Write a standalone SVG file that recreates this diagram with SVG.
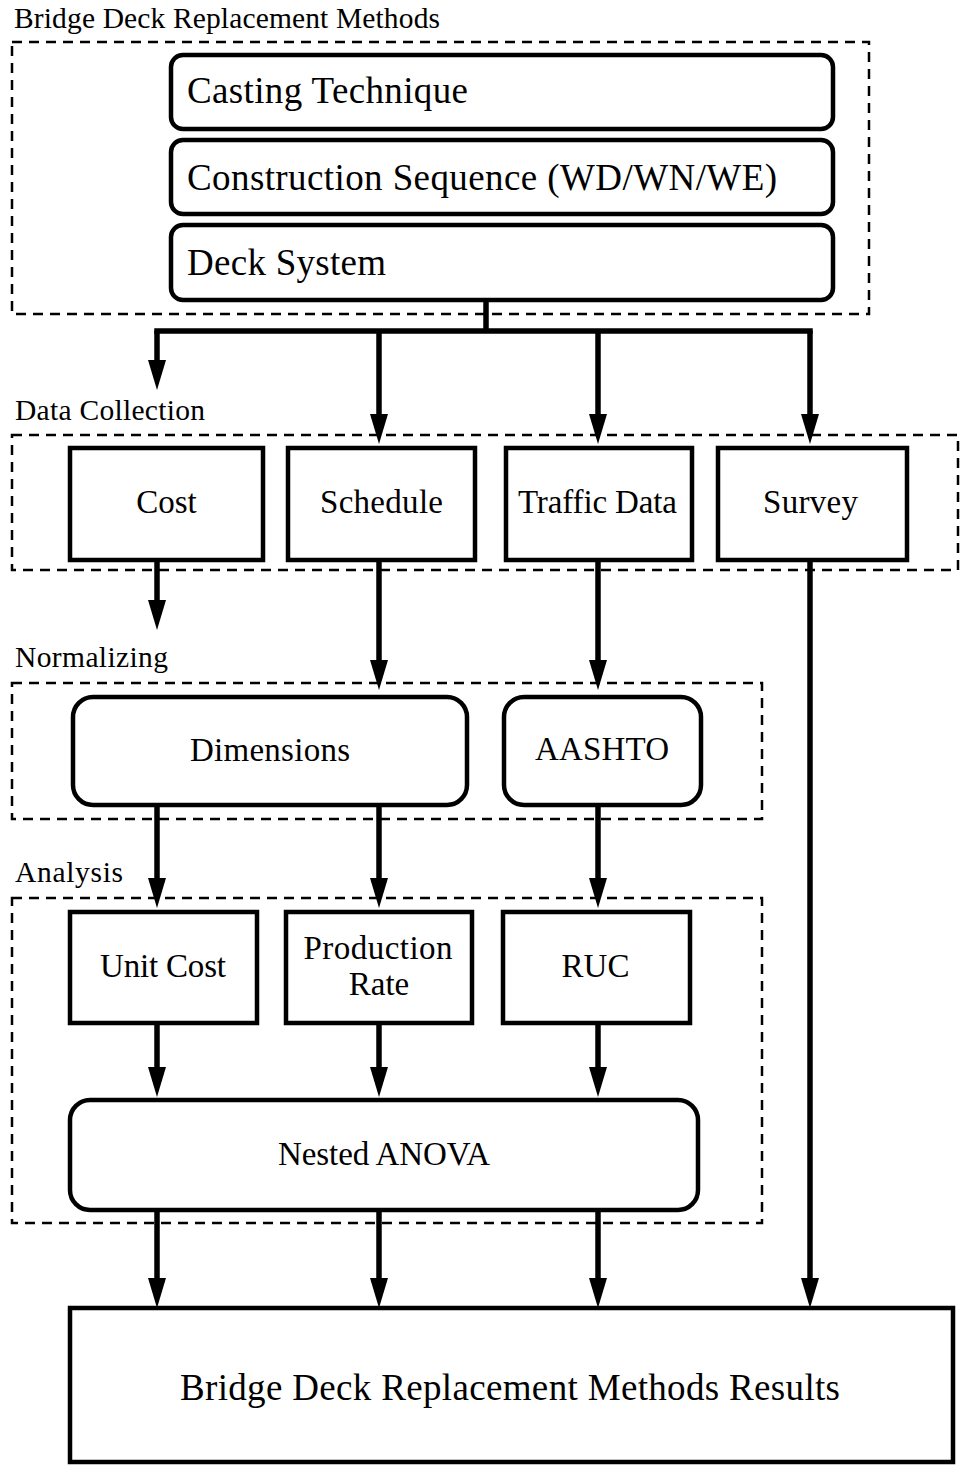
<svg xmlns="http://www.w3.org/2000/svg" width="960" height="1465" viewBox="0 0 960 1465">
<style>
text{font-family:"Liberation Serif","Times New Roman",serif;fill:#000}
.lbl{font-size:29.5px}
.big{font-size:37px}
.mid{font-size:33px;text-anchor:middle}
.grp{fill:none;stroke:#000;stroke-width:2.5;stroke-dasharray:10 7}
.box{fill:#fff;stroke:#000;stroke-width:4.5}
.con{fill:none;stroke:#000;stroke-width:5.5}
.arr{fill:none;stroke:#000;stroke-width:5.5;marker-end:url(#ah)}
</style>
<defs>
<marker id="ah" markerUnits="userSpaceOnUse" markerWidth="30" markerHeight="18" refX="10" refY="9" orient="auto">
<path d="M0,0 L30,9 L0,18 Z" fill="#000"/>
</marker>
</defs>
<rect width="960" height="1465" fill="#fff"/>

<g id="grp-methods">
<rect class="grp" x="12" y="42" width="857" height="272"/>
<text class="lbl" x="14" y="28" textLength="426" lengthAdjust="spacing">Bridge Deck Replacement Methods</text>
</g>
<g id="grp-data">
<rect class="grp" x="12" y="435" width="946" height="135"/>
<text class="lbl" x="15" y="420" textLength="190" lengthAdjust="spacing">Data Collection</text>
</g>
<g id="grp-norm">
<rect class="grp" x="12" y="683" width="750" height="136"/>
<text class="lbl" x="15" y="667" textLength="153" lengthAdjust="spacing">Normalizing</text>
</g>
<g id="grp-analysis">
<rect class="grp" x="12" y="898" width="750" height="325"/>
<text class="lbl" x="15" y="882" textLength="108" lengthAdjust="spacing">Analysis</text>
</g>

<g id="connectors">
<path class="con" d="M486,300 V331 M154.25,331 H812.75"/>
<path class="arr" d="M157,331 V370"/>
<path class="arr" d="M379,331 V424"/>
<path class="arr" d="M598,331 V424"/>
<path class="arr" d="M810,331 V424"/>
<path class="arr" d="M157,560 V610"/>
<path class="arr" d="M379,560 V670"/>
<path class="arr" d="M598,560 V670"/>
<path class="arr" d="M810,560 V1288"/>
<path class="arr" d="M157,805 V888"/>
<path class="arr" d="M379,805 V888"/>
<path class="arr" d="M598,805 V888"/>
<path class="arr" d="M157,1023 V1077"/>
<path class="arr" d="M379,1023 V1077"/>
<path class="arr" d="M598,1023 V1077"/>
<path class="arr" d="M157,1210 V1288"/>
<path class="arr" d="M379,1210 V1288"/>
<path class="arr" d="M598,1210 V1288"/>
</g>

<g id="casting">
<rect class="box" x="171" y="55" width="662" height="74" rx="12"/>
<text class="big" x="187" y="103" textLength="281" lengthAdjust="spacing">Casting Technique</text>
</g>
<g id="sequence">
<rect class="box" x="171" y="140" width="662" height="74" rx="12"/>
<text class="big" x="187" y="190" textLength="590" lengthAdjust="spacing">Construction Sequence (WD/WN/WE)</text>
</g>
<g id="deck">
<rect class="box" x="171" y="225" width="662" height="75" rx="12"/>
<text class="big" x="187" y="275" textLength="199" lengthAdjust="spacing">Deck System</text>
</g>

<g id="cost">
<rect class="box" x="70" y="448" width="193" height="112"/>
<text class="mid" x="166.5" y="513">Cost</text>
</g>
<g id="schedule">
<rect class="box" x="288" y="448" width="187" height="112"/>
<text class="mid" x="381.5" y="513" textLength="123" lengthAdjust="spacing">Schedule</text>
</g>
<g id="traffic">
<rect class="box" x="506" y="448" width="186" height="112"/>
<text class="mid" x="597.5" y="513" textLength="159" lengthAdjust="spacing">Traffic Data</text>
</g>
<g id="survey">
<rect class="box" x="718" y="448" width="189" height="112"/>
<text class="mid" x="810.5" y="513" textLength="95" lengthAdjust="spacing">Survey</text>
</g>

<g id="dimensions">
<rect class="box" x="73" y="697" width="394" height="108" rx="20"/>
<text class="mid" x="270" y="761" textLength="160" lengthAdjust="spacing">Dimensions</text>
</g>
<g id="aashto">
<rect class="box" x="504" y="697" width="197" height="108" rx="20"/>
<text class="mid" x="602" y="760" textLength="134" lengthAdjust="spacing">AASHTO</text>
</g>

<g id="unitcost">
<rect class="box" x="70" y="912" width="187" height="111"/>
<text class="mid" x="163" y="977" textLength="126" lengthAdjust="spacing">Unit Cost</text>
</g>
<g id="prodrate">
<rect class="box" x="286" y="912" width="186" height="111"/>
<text class="mid" x="378" y="959" textLength="149" lengthAdjust="spacing">Production</text>
<text class="mid" x="379" y="995">Rate</text>
</g>
<g id="ruc">
<rect class="box" x="503" y="912" width="187" height="111"/>
<text class="mid" x="595.5" y="977">RUC</text>
</g>

<g id="anova">
<rect class="box" x="70" y="1100" width="628" height="110" rx="20"/>
<text class="mid" x="384" y="1165" textLength="212" lengthAdjust="spacing">Nested ANOVA</text>
</g>

<g id="results">
<rect class="box" x="70" y="1308" width="883" height="154"/>
<text class="big" x="510" y="1400" text-anchor="middle" textLength="660" lengthAdjust="spacing">Bridge Deck Replacement Methods Results</text>
</g>
</svg>
